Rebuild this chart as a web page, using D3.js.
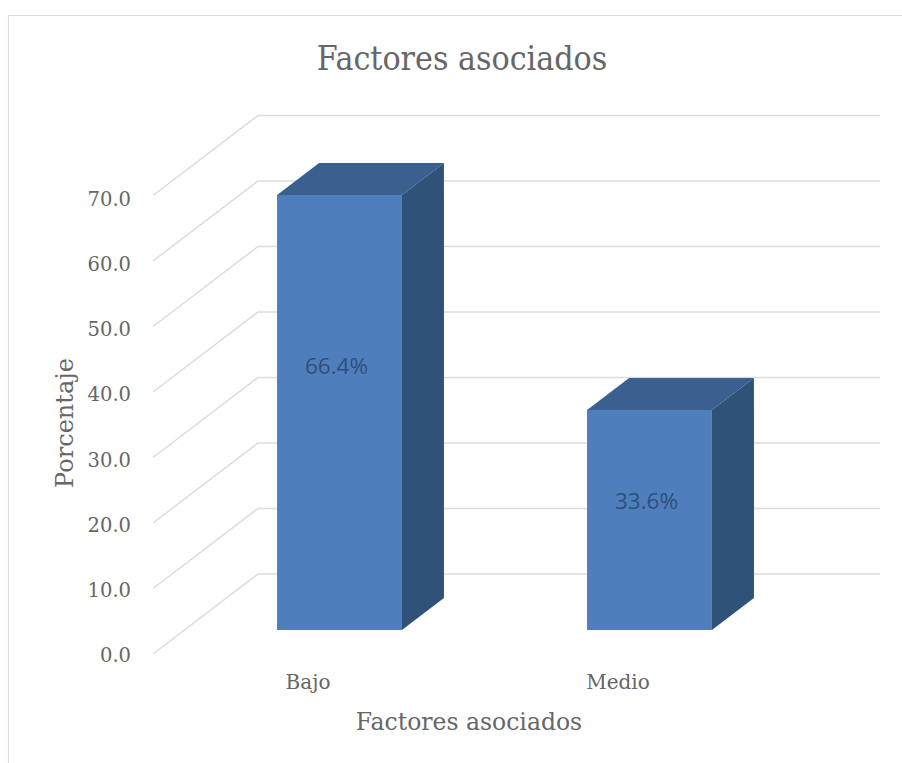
<!DOCTYPE html>
<html><head><meta charset="utf-8">
<script src="https://cdn.jsdelivr.net/npm/d3@7"></script>
<style>html,body{margin:0;padding:0;background:#fff}svg{display:block}</style>
</head><body><svg id="c" width="902" height="763"></svg>
<script>
const categories = ["Bajo", "Medio"];
const values = [66.4, 33.6];
const valueLabels = ["66.4%", "33.6%"];
const yTicks = [0, 10, 20, 30, 40, 50, 60, 70];
const chartTitle = "Factores asociados";
const xTitle = "Factores asociados";
const yTitle = "Porcentaje";

const svg = d3.select("#c");
const serif = "'DejaVu Serif','Liberation Serif',serif";
const sans = "'Open Sans','Noto Sans',sans-serif";
const grey = "#666666";

// 3D projection: depth d in [0,1] shifts a point right and up
const y = d3.scaleLinear().domain([0, 70]).range([654, 195.5]);
const yLab = d3.scaleLinear().domain([0, 70]).range([662, 206]);
const x = d3.scaleBand().domain(categories).range([184.5, 804.5]).paddingInner(0.597).paddingOuter(0.2985);
const DX = 105, DY = -80;
const p = (px, v, d) => [px + DX * d, y(v) + DY * d];
const line = d3.line();

// frame
svg.append("path").attr("d", "M8.5,763V15.5H902").attr("fill", "none").attr("stroke", "#dcdcdc").attr("stroke-width", 1.2);

// gridlines
svg.append("g").selectAll("path").data(yTicks).join("path")
  .attr("d", v => line([[153, y(v)], p(153, v, 1), [880, p(153, v, 1)[1]]]))
  .attr("fill", "none").attr("stroke", "#dcdcdc").attr("stroke-width", 1.5);

// bars
const d0 = 0.3, d1 = 0.7;
const bars = svg.append("g").selectAll("g").data(categories).join("g");
const bx = c => x(c) - DX * d0;
const val = (c) => values[categories.indexOf(c)];
bars.append("path").attr("fill", "#3a6090").attr("d", c => {
  const l = bx(c), r = l + x.bandwidth(), v = val(c);
  return line([p(l, v, d0), p(r, v, d0), p(r, v, d1), p(l, v, d1)]) + "Z";
});
bars.append("path").attr("fill", "#305279").attr("d", c => {
  const r = bx(c) + x.bandwidth(), v = val(c);
  return line([p(r, v, d0), p(r, v, d1), p(r, 0, d1), p(r, 0, d0)]) + "Z";
});
bars.append("path").attr("fill", "#4e7fbc").attr("d", c => {
  const l = bx(c), r = l + x.bandwidth(), v = val(c);
  return line([p(l, v, d0), p(r, v, d0), p(r, 0, d0), p(l, 0, d0)]) + "Z";
});
bars.append("text").text((c, i) => valueLabels[i])
  .attr("x", c => x(c) + x.bandwidth() / 2 - 3)
  .attr("y", c => p(0, val(c) * 0.628, d0)[1] + 17)
  .attr("text-anchor", "middle").attr("font-family", sans).attr("font-size", 22.5)
  .attr("fill", "#2f4f7c");

// y tick labels
svg.append("g").selectAll("text").data(yTicks).join("text")
  .text(d3.format(".1f"))
  .attr("x", 131).attr("y", v => yLab(v))
  .attr("text-anchor", "end").attr("font-family", serif).attr("font-size", 19.5).attr("fill", grey);

// category labels
svg.append("g").selectAll("text").data(categories).join("text")
  .text(d => d)
  .attr("x", d => x(d) + x.bandwidth() / 2 - DX * d0).attr("y", 689)
  .attr("text-anchor", "middle").attr("font-family", serif).attr("font-size", 20).attr("fill", grey);

svg.append("text").text(chartTitle).attr("x", 462).attr("y", 70)
  .attr("text-anchor", "middle").attr("font-family", serif).attr("font-size", 33.6)
  .style("font-stretch", "condensed").attr("fill", grey);
svg.append("text").text(xTitle).attr("x", 469).attr("y", 730)
  .attr("text-anchor", "middle").attr("font-family", serif).attr("font-size", 23.5).attr("fill", grey);
svg.append("text").text(yTitle).attr("transform", "translate(73,423) rotate(-90)")
  .attr("text-anchor", "middle").attr("font-family", serif).attr("font-size", 24).attr("fill", grey);
</script></body></html>
